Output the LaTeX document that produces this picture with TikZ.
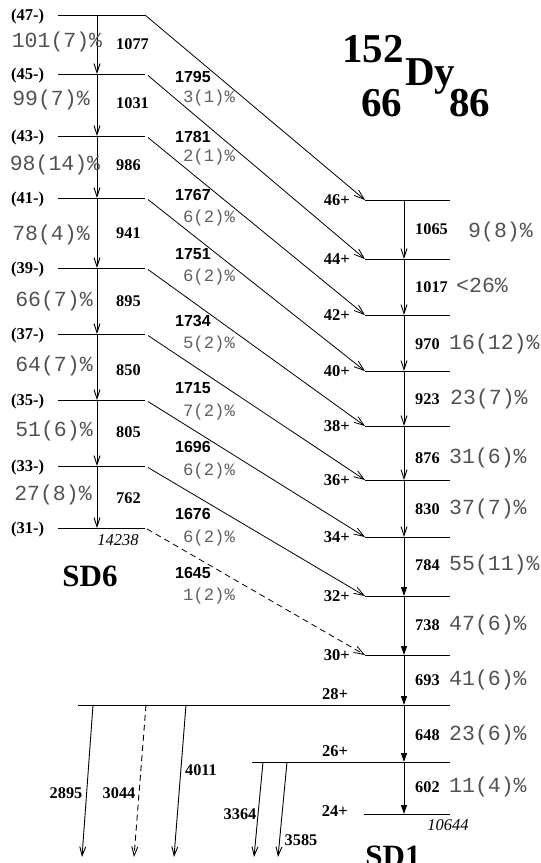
\documentclass[tikz,border=0pt]{standalone}
\usepackage{fontspec}
\setmainfont{Liberation Serif}
\newfontfamily\hsans{Liberation Sans}
\newfontfamily\cour{Liberation Mono}
\usetikzlibrary{arrows.meta}
\begin{document}
\begin{tikzpicture}[x=1pt,y=-1pt,
  lvl/.style={line width=1pt},
  trans/.style={line width=0.9pt,-{Straight Barb[length=9pt,width=6pt]}},
  transf/.style={line width=0.9pt,-{Triangle[length=9pt,width=6pt]}},
  dtrans/.style={line width=0.8pt,-{Straight Barb[length=10pt,width=7pt]}},
  lvllab/.style={font=\fontsize{16.5}{16.5}\selectfont\bfseries,inner sep=0pt},
  en/.style={font=\fontsize{16.3}{16.3}\selectfont\bfseries,inner sep=0pt},
  den/.style={font=\hsans\fontsize{16}{16}\selectfont\bfseries,inner sep=0pt},
  pc/.style={font=\cour\fontsize{21.5}{21.5}\selectfont,text=black!68,inner sep=0pt},
  dpc/.style={font=\cour\fontsize{17.3}{17.3}\selectfont,text=black!62,inner sep=0pt},
  itl/.style={font=\fontsize{16.5}{16.5}\selectfont\itshape,inner sep=0pt},
  big/.style={font=\fontsize{31}{31}\selectfont\bfseries,inner sep=0pt},
  ttl/.style={font=\fontsize{41}{41}\selectfont\bfseries,inner sep=0pt}]
\fill[white] (0,0) rectangle (541,863);
\useasboundingbox (0,0) rectangle (541,863);

% SD6 levels
\foreach \n/\y in {47/15,45/74,43/136,41/198,39/268,37/334,35/400,33/466,31/528}{
  \coordinate (A\n w) at (58,\y);
  \coordinate (A\n m) at (97,\y);
  \coordinate (A\n e) at (145,\y);
  \draw[lvl] (A\n w) -- (A\n e);
  \node[lvllab,anchor=mid west] (lA\n) at (11,\y+3) {(\n-)};
}
% SD1 levels
\foreach \n/\y in {46/200,44/259,42/315,40/371,38/426,36/480,34/537,32/596,30/655}{
  \coordinate (B\n w) at (365,\y);
  \coordinate (B\n m) at (404,\y);
  \coordinate (B\n e) at (450,\y);
  \draw[lvl] (B\n w) -- (B\n e);
  \node[lvllab,anchor=mid east] (lB\n) at (350,\y+3) {\n+};
}
\coordinate (B28w) at (78,705); \coordinate (B28m) at (404,705); \coordinate (B28e) at (450,705);
\coordinate (B26w) at (252,762); \coordinate (B26m) at (404,762); \coordinate (B26e) at (450,762);
\coordinate (B24w) at (364,814); \coordinate (B24m) at (404,814); \coordinate (B24e) at (450,814);
\draw[lvl] (B28w) -- (B28e);
\draw[lvl] (B26w) -- (B26e);
\draw[lvl] (B24w) -- (B24e);
\node[lvllab,anchor=mid] (lB28) at (335,697) {28+};
\node[lvllab,anchor=mid] (lB26) at (335,754) {26+};
\node[lvllab,anchor=mid east] (lB24) at (348,814) {24+};

% SD6 cascade
\foreach \a/\b in {47/45,45/43,43/41,41/39,39/37,37/35,35/33,33/31}
  \draw[trans] (A\a m) -- (A\b m);
% SD1 cascade
\foreach \a/\b in {46/44,44/42,42/40,40/38,38/36,36/34}
  \draw[trans] (B\a m) -- (B\b m);
\foreach \a/\b in {34/32,32/30,30/28,28/26,26/24}
  \draw[transf] (B\a m) -- (B\b m);

% linking transitions
\draw[dtrans] (A47e) -- (B46w);
\foreach \a/\b in {45/44,43/42,41/40,39/38,37/36,35/34,33/32}
  \draw[dtrans] ([shift={(3,1.5)}]A\a e) -- (B\b w);
\draw[dtrans,dashed,dash pattern=on 6pt off 4pt] ([shift={(2,1)}]A31e) -- (B30w);

% SD6 labels
\foreach \t/\x/\y [count=\i] in {101(7)\%/57/45,99(7)\%/51/103,98(14)\%/55/168,78(4)\%/51/238,66(7)\%/54/304,64(7)\%/54/369,51(6)\%/54/434,27(8)\%/53/498}
  \node[pc,anchor=mid] (pA\i) at (\x,\y) {\t};
\foreach \t/\y in {1077/47,1031/106,986/168,941/236,895/304,850/373,805/435,762/501}
  \node[en,anchor=mid west] (eA\t) at (116,\y) {\t};

% linking labels
\foreach \e/\p/\ya/\yb [count=\i] in {1795/3(1)\%/80/100,1781/2(1)\%/140/159,1767/6(2)\%/198/220,1751/6(2)\%/257/279,1734/5(2)\%/324/346,1715/7(2)\%/391/414,1696/6(2)\%/450/473,1676/6(2)\%/517/540,1645/1(2)\%/576/598}{
  \node[den,anchor=mid] (dE\i) at (193,\ya) {\e};
  \node[dpc,anchor=mid] (dP\i) at (209,\yb) {\p};
}

% SD1 labels
\foreach \e/\y in {1065/232,1017/290,970/347,923/402,876/461,830/512,784/568,738/628,693/683,648/738,602/790}
  \node[en,anchor=mid west] (eB\e) at (415,\y) {\e};
\foreach \t/\x/\y [count=\i] in {9(8)\%/468/235,<26\%/456/290,16(12)\%/449/347,23(7)\%/450/402,31(6)\%/449/461,37(7)\%/449/512,55(11)\%/449/568,47(6)\%/449/628,41(6)\%/449/683,23(6)\%/449/738,11(4)\%/449/790}
  \node[pc,anchor=mid west] (pB\i) at (\x,\y) {\t};

% out-of-band transitions
\coordinate (o1a) at (93,705);  \coordinate (o1b) at (82,857);
\coordinate (o2a) at (146,705); \coordinate (o2b) at (134,857);
\coordinate (o3a) at (186,705); \coordinate (o3b) at (174,857);
\coordinate (o4a) at (263,762); \coordinate (o4b) at (254,857);
\coordinate (o5a) at (287,762); \coordinate (o5b) at (278,857);
\draw[trans] (o1a) -- (o1b);
\draw[trans,dashed,dash pattern=on 6pt off 4pt] (o2a) -- (o2b);
\draw[trans] (o3a) -- (o3b);
\draw[trans] (o4a) -- (o4b);
\draw[trans] (o5a) -- (o5b);
\node[en,anchor=mid] (x2895) at (66,796) {2895};
\node[en,anchor=mid] (x3044) at (119,796) {3044};
\node[en,anchor=mid] (x4011) at (201,773) {4011};
\node[en,anchor=mid] (x3364) at (240,817) {3364};
\node[en,anchor=mid] (x3585) at (301,843) {3585};

% band heads / names
\node[itl,anchor=mid] (h6) at (118,543) {14238};
\node[itl,anchor=mid] (h1) at (448,828) {10644};
\node[big,anchor=base] (sd6) at (90,586) {SD6};
\node[big,anchor=base] (sd1) at (393,866) {SD1};

% nucleus
\node[ttl,anchor=base west] (tA) at (342,62) {152};
\node[ttl,anchor=base west] (tDy) at (405,85) {Dy};
\node[ttl,anchor=base west] (tZ) at (361,116) {66};
\node[ttl,anchor=base west] (tN) at (449,116) {86};
\end{tikzpicture}
\end{document}
